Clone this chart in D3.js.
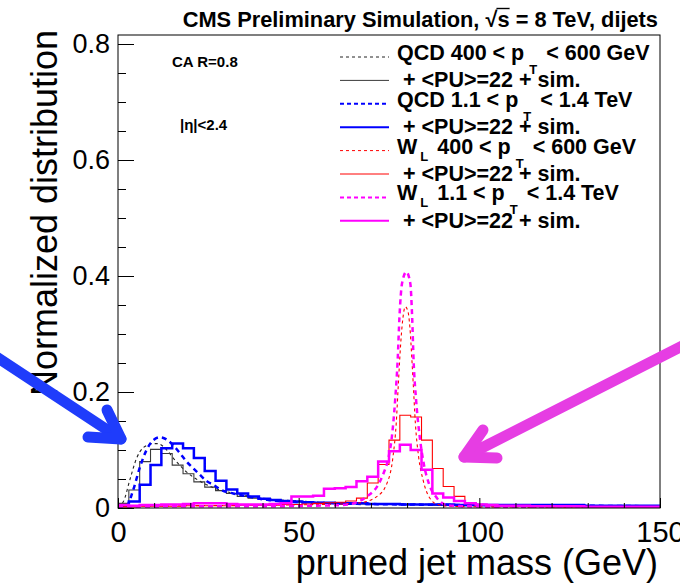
<!DOCTYPE html>
<html>
<head>
<meta charset="utf-8">
<script src="https://cdn.jsdelivr.net/npm/d3@7"></script>
<style>
  body { margin: 0; background: #fff; }
  svg { display: block; }
  text { font-family: "Liberation Sans", Arial, Helvetica, sans-serif; fill: #000; white-space: pre; }
</style>
</head>
<body>
<svg id="chart" width="680" height="587"></svg>
<script>
// ---- data -------------------------------------------------------------
// pruned jet mass histograms: 50 bins of 3 GeV between 0 and 150 GeV
const massEdges = d3.range(0, 153, 3);

// QCD 400 < pT < 600 GeV, <PU>=22 + sim.
const qcdLowPU = [
  0.008, 0.031, 0.080, 0.101, 0.094, 0.074, 0.059, 0.045, 0.036, 0.030,
  0.025, 0.020, 0.017, 0.015, 0.013, 0.012, 0.011, 0.010, 0.009, 0.009,
  0.008, 0.008, 0.007, 0.007, 0.007, 0.006, 0.006, 0.006, 0.006, 0.005,
  0.005, 0.005, 0.005, 0.005, 0.005, 0.005, 0.004, 0.004, 0.004, 0.004,
  0.004, 0.004, 0.004, 0.004, 0.004, 0.004, 0.003, 0.003, 0.003, 0.003
];
// QCD 1.1 < pT < 1.4 TeV, <PU>=22 + sim.
const qcdHighPU = [
  0.004, 0.011, 0.040, 0.074, 0.103, 0.111, 0.103, 0.086, 0.064, 0.047,
  0.032, 0.025, 0.020, 0.016, 0.014, 0.012, 0.011, 0.010, 0.009, 0.009,
  0.008, 0.008, 0.008, 0.007, 0.007, 0.007, 0.006, 0.006, 0.006, 0.006,
  0.006, 0.005, 0.005, 0.005, 0.005, 0.005, 0.005, 0.005, 0.005, 0.005,
  0.005, 0.005, 0.005, 0.004, 0.004, 0.004, 0.004, 0.004, 0.004, 0.004
];
// W_L 400 < pT < 600 GeV, <PU>=22 + sim.
const wLowPU = [
  0.002, 0.002, 0.003, 0.003, 0.003, 0.003, 0.004, 0.004, 0.004, 0.004,
  0.004, 0.005, 0.005, 0.005, 0.005, 0.006, 0.006, 0.007, 0.008, 0.009,
  0.010, 0.012, 0.017, 0.043, 0.075, 0.117, 0.160, 0.157, 0.117, 0.068,
  0.037, 0.020, 0.009, 0.006, 0.004, 0.004, 0.003, 0.003, 0.003, 0.003,
  0.002, 0.002, 0.002, 0.002, 0.002, 0.002, 0.002, 0.002, 0.002, 0.002
];
// W_L 1.1 < pT < 1.4 TeV, <PU>=22 + sim.
const wHighPU = [
  0.005, 0.004, 0.005, 0.005, 0.006, 0.006, 0.007, 0.008, 0.008, 0.008,
  0.007, 0.006, 0.006, 0.006, 0.007, 0.008, 0.020, 0.020, 0.021, 0.033,
  0.034, 0.036, 0.046, 0.054, 0.080, 0.098, 0.109, 0.100, 0.066, 0.025,
  0.018, 0.012, 0.008, 0.006, 0.005, 0.004, 0.004, 0.004, 0.003, 0.003,
  0.003, 0.003, 0.003, 0.002, 0.002, 0.002, 0.002, 0.002, 0.002, 0.002
];

// generator-level (sim.) distributions, drawn as smooth curves
const qcdLowSimMass = [0, 1.5, 3.3, 5.1, 7.0, 9.8, 11.0, 13.5, 15.3, 17.2, 19.0, 20.9, 22.7, 26.4, 30, 35.7, 41.2, 50, 60, 80, 100, 125, 150];
const qcdLowSimVal  = [0.002, 0.011, 0.049, 0.085, 0.104, 0.111, 0.111, 0.100, 0.086, 0.073, 0.062, 0.053, 0.046, 0.035, 0.028, 0.021, 0.016, 0.012, 0.009, 0.007, 0.005, 0.004, 0.003];

const qcdHighSimMass = [0, 1.5, 2.4, 4.2, 6.1, 7.9, 9.8, 11.6, 13.5, 15.3, 17.2, 19.0, 20.9, 22.7, 24.6, 26.4, 28.3, 31.9, 35.7, 41.2, 50, 60, 80, 100, 125, 150];
const qcdHighSimVal  = [0.000, 0.001, 0.003, 0.031, 0.071, 0.100, 0.117, 0.122, 0.118, 0.108, 0.094, 0.080, 0.068, 0.057, 0.046, 0.040, 0.032, 0.025, 0.020, 0.014, 0.010, 0.008, 0.006, 0.005, 0.004, 0.003];

const wLowSimMass = [0, 20, 40, 55, 62, 67, 71.7, 74.4, 76.1, 77.0, 77.6, 78.2, 78.9, 79.5, 80.2, 80.8, 81.3, 81.7, 82.3, 83.2, 84.4, 86, 88.5, 92, 100, 150];
const wLowSimVal  = [0.003, 0.004, 0.005, 0.006, 0.007, 0.009, 0.020, 0.042, 0.088, 0.146, 0.215, 0.280, 0.330, 0.347, 0.340, 0.310, 0.260, 0.215, 0.146, 0.088, 0.049, 0.020, 0.006, 0.003, 0.002, 0.001];

const wHighSimMass = [0, 20, 40, 55, 61.5, 65.2, 68.9, 71.7, 73.5, 74.9, 75.8, 76.7, 77.4, 77.9, 78.6, 79.8, 80.9, 81.4, 81.8, 82.5, 83.5, 84.6, 86, 88.3, 91, 96, 110, 150];
const wHighSimVal  = [0.002, 0.003, 0.003, 0.004, 0.005, 0.008, 0.020, 0.037, 0.060, 0.088, 0.123, 0.186, 0.255, 0.330, 0.387, 0.407, 0.387, 0.330, 0.255, 0.186, 0.123, 0.077, 0.043, 0.017, 0.005, 0.003, 0.002, 0.001];

const yMajorTicks = [0, 0.2, 0.4, 0.6, 0.8];
const xMajorTicks = [0, 50, 100, 150];

const series = [
  { text: "QCD 400 < p_{T} < 600 GeV", kind: "curve", m: qcdLowSimMass, v: qcdLowSimVal, color: "#222222", width: 1.1, dash: "3,3" },
  { text: " + <PU>=22 + sim.",          kind: "hist",  v: qcdLowPU,  color: "#3a3a3a", width: 1.1 },
  { text: "QCD 1.1 < p_{T} < 1.4 TeV",  kind: "curve", m: qcdHighSimMass, v: qcdHighSimVal, color: "#0000ff", width: 2.5, dash: "5,4" },
  { text: " + <PU>=22 + sim.",          kind: "hist",  v: qcdHighPU, color: "#0000ff", width: 2.5 },
  { text: "W_{L} 400 < p_{T} < 600 GeV", kind: "curve", m: wLowSimMass, v: wLowSimVal, color: "#ff0000", width: 1.1, dash: "3,3" },
  { text: " + <PU>=22 + sim.",          kind: "hist",  v: wLowPU,    color: "#ff0000", width: 1.1 },
  { text: "W_{L} 1.1 < p_{T} < 1.4 TeV", kind: "curve", m: wHighSimMass, v: wHighSimVal, color: "#ff00ff", width: 2.5, dash: "5,4" },
  { text: " + <PU>=22 + sim.",          kind: "hist",  v: wHighPU,   color: "#ff00ff", width: 2.5 }
];

// ---- layout -----------------------------------------------------------
const svg = d3.select("#chart");
const frame = { left: 118, right: 660, top: 35, bottom: 508 };

const x = d3.scaleLinear().domain([0, 150]).range([frame.left, frame.right]);
const y = d3.scaleLinear().domain([0, 0.8]).range([frame.bottom, 44]);

svg.append("defs").append("clipPath").attr("id", "plotArea")
  .append("rect")
  .attr("x", frame.left).attr("y", frame.top)
  .attr("width", frame.right - frame.left).attr("height", frame.bottom - frame.top);

// ---- distributions ------------------------------------------------------
const plot = svg.append("g").attr("clip-path", "url(#plotArea)");

const histLine = d3.line()
  .x(d => x(d[0])).y(d => y(d[1]))
  .curve(d3.curveStepAfter);
const smoothLine = d3.line()
  .x(d => x(d[0])).y(d => y(d[1]))
  .curve(d3.curveMonotoneX);

series.forEach(s => {
  let pts, gen;
  if (s.kind === "hist") {
    pts = massEdges.map((e, i) => [e, s.v[Math.min(i, s.v.length - 1)]]);
    gen = histLine;
  } else {
    pts = s.m.map((m, i) => [m, s.v[i]]);
    gen = smoothLine;
  }
  plot.append("path")
    .attr("d", gen(pts))
    .attr("fill", "none")
    .attr("stroke", s.color)
    .attr("stroke-width", s.width)
    .attr("stroke-dasharray", s.dash || null)
    .attr("stroke-linejoin", "miter");
});

// ---- frame and axes -----------------------------------------------------
svg.append("rect")
  .attr("x", frame.left).attr("y", frame.top)
  .attr("width", frame.right - frame.left).attr("height", frame.bottom - frame.top)
  .attr("fill", "none").attr("stroke", "#000").attr("stroke-width", 1);

const yMinor = d3.range(0, 0.8001, 0.05).filter(v => !yMajorTicks.some(t => Math.abs(t - v) < 1e-6));
const xMinor = d3.range(0, 150.01, 10).filter(v => !xMajorTicks.includes(v));

const fmtY = d => d === 0 ? "0" : d.toFixed(1);

const yAxis = svg.append("g").attr("transform", `translate(${frame.left},0)`)
  .call(d3.axisLeft(y).tickValues(yMajorTicks).tickSize(-16).tickPadding(8).tickFormat(fmtY));
const yAxisMinor = svg.append("g").attr("transform", `translate(${frame.left},0)`)
  .call(d3.axisLeft(y).tickValues(yMinor).tickSize(-8).tickFormat(""));
const xAxis = svg.append("g").attr("transform", `translate(0,${frame.bottom})`)
  .call(d3.axisBottom(x).tickValues(xMajorTicks).tickSize(-10).tickPadding(13).tickFormat(d3.format("d")));
const xAxisMinor = svg.append("g").attr("transform", `translate(0,${frame.bottom})`)
  .call(d3.axisBottom(x).tickValues(xMinor).tickSize(-5).tickFormat(""));

[yAxis, yAxisMinor, xAxis, xAxisMinor].forEach(g => {
  g.select(".domain").remove();
  g.selectAll(".tick line").attr("stroke", "#000").attr("stroke-width", 1);
});
yAxis.selectAll("text").attr("font-size", 27).attr("font-family", null);
xAxis.selectAll("text").attr("font-size", 29).attr("font-family", null);

// axis titles
svg.append("text")
  .attr("transform", "translate(57,213) rotate(-90)")
  .attr("text-anchor", "middle")
  .attr("font-size", 36)
  .text("Normalized distribution");

svg.append("text")
  .attr("x", 658).attr("y", 575)
  .attr("text-anchor", "end")
  .attr("font-size", 36)
  .text("pruned jet mass (GeV)");

// ---- header ---------------------------------------------------------------
const titlePre = "CMS Preliminary Simulation, ";
const title = svg.append("text")
  .attr("x", 658).attr("y", 27)
  .attr("text-anchor", "end")
  .attr("font-size", 21.8)
  .attr("font-weight", "bold");
title.append("tspan").text(titlePre + "\u221A");
title.append("tspan").text("s");
title.append("tspan").text(" = 8 TeV, dijets");
{
  const node = title.node();
  const ext = node.getExtentOfChar(titlePre.length + 1);
  const rootExt = node.getExtentOfChar(titlePre.length);
  svg.append("line")
    .attr("x1", rootExt.x + rootExt.width - 1).attr("x2", ext.x + ext.width)
    .attr("y1", rootExt.y + 1.5).attr("y2", rootExt.y + 1.5)
    .attr("stroke", "#000").attr("stroke-width", 1.4);
}

svg.append("text").attr("x", 172).attr("y", 67)
  .attr("font-size", 15).attr("font-weight", "bold").text("CA R=0.8");
svg.append("text").attr("x", 180).attr("y", 130)
  .attr("font-size", 15).attr("font-weight", "bold").text("|\u03B7|<2.4");

// ---- legend ---------------------------------------------------------------
const legend = svg.append("g");
const rowStep = 23.4;
series.forEach((s, i) => {
  const ly = 57 + i * rowStep;
  legend.append("line")
    .attr("x1", 340).attr("x2", 389).attr("y1", ly).attr("y2", ly)
    .attr("stroke", s.color).attr("stroke-width", s.width > 2 ? 2 : 1)
    .attr("stroke-dasharray", s.dash ? (s.width > 2 ? "4,3" : "3,3") : null);

  const t = legend.append("text")
    .attr("x", 397).attr("y", ly + (i % 2 === 0 ? 3 : 7))
    .attr("font-size", 21.5).attr("font-weight", "bold");
  const parts = s.text.split(/(_\{[^}]*\})/).filter(p => p.length);
  let shift = 0, prev = "";
  parts.forEach(p => {
    const m = p.match(/^_\{(.*)\}$/);
    if (m) {
      shift = /p$/.test(prev) ? 14 : 7;
      t.append("tspan").attr("dx", /p$/.test(prev) ? 5 : 3).attr("dy", shift)
        .attr("font-size", 13).text(m[1]);
    } else {
      t.append("tspan").attr("dx", shift ? 3 : 0).attr("dy", shift ? -shift : 0).text(p);
      shift = 0;
    }
    prev = p;
  });
});

// ---- pointer arrows -------------------------------------------------------
function arrow(color, from, tip, arms) {
  const g = svg.append("g").attr("fill", "none").attr("stroke", color)
    .attr("stroke-width", 11).attr("stroke-linecap", "round").attr("stroke-linejoin", "round");
  g.append("line").attr("x1", from[0]).attr("y1", from[1]).attr("x2", tip[0]).attr("y2", tip[1]);
  g.append("path").attr("d", d3.line()([arms[0], tip, arms[1]]));
}
arrow("#1f3cfb", [-8, 354], [121, 439], [[88, 437], [107, 410]]);
arrow("#e63de3", [690, 342], [464, 457], [[497, 458], [483, 430]]);
</script>
</body>
</html>
